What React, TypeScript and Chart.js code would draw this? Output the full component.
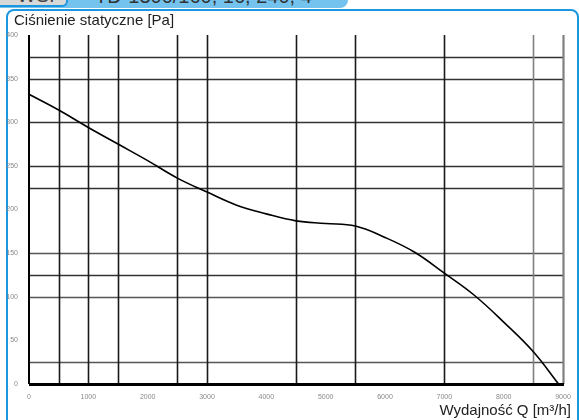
import React, { useEffect, useRef } from "react";
import { Chart, registerables } from "chart.js";

Chart.register(...registerables);

// Flow Q [m3/h]
const flowQ = [0, 500, 1000, 1500, 2000, 2500, 3000, 3500, 4000, 4500, 5000, 5500, 6000, 6500, 7000, 7500, 8000, 8500, 8925];
// Static pressure [Pa]
const pressure = [332, 314, 294, 275, 256, 236, 220, 205, 195, 187, 184, 181, 168, 151, 127, 102, 71, 37, 0];

// Irregular grid lines visible in the picture (data units)
const hGridValues = [25, 100, 125, 150, 225, 250, 300, 350, 375];
const vGridValues = [500, 1000, 1500, 2500, 3000, 4500, 5500, 7000, 8500, 9000];

const xTicks = [0, 1000, 2000, 3000, 4000, 5000, 6000, 7000, 8000, 9000];
const yTicks = [0, 50, 100, 150, 200, 250, 300, 350, 400];

const yTitle = "Ciśnienie statyczne [Pa]";
const xTitle = "Wydajność Q [m³/h]";
const headerTab = "WSP";
const headerText = "TD-1300/160, 16, 240, 4";

const gridPlugin = {
  id: "customGrid",
  beforeDatasetsDraw(chart: any) {
    const { ctx, chartArea, scales } = chart;
    const xs = scales.x;
    const ys = scales.y;
    ctx.save();
    hGridValues.forEach((v) => {
      const y = Math.round(ys.getPixelForValue(v)) + 0.5;
      ctx.beginPath();
      ctx.strokeStyle = v === 25 || v === 100 || v === 150 ? "#555" : "#333";
      ctx.lineWidth = 1.6;
      ctx.moveTo(chartArea.left, y);
      ctx.lineTo(chartArea.right, y);
      ctx.stroke();
    });
    vGridValues.forEach((v) => {
      const x = Math.round(xs.getPixelForValue(v)) + 0.5;
      ctx.beginPath();
      ctx.strokeStyle = v >= 8500 ? "#808080" : "#1a1a1a";
      ctx.lineWidth = v === 9000 ? 2.2 : 1.6;
      ctx.moveTo(x, chartArea.top);
      ctx.lineTo(x, chartArea.bottom);
      ctx.stroke();
    });
    ctx.beginPath();
    ctx.strokeStyle = "#000";
    ctx.lineWidth = 2;
    const lx = Math.round(xs.getPixelForValue(0));
    ctx.moveTo(lx, chartArea.top);
    ctx.lineTo(lx, chartArea.bottom);
    ctx.stroke();
    ctx.beginPath();
    ctx.lineWidth = 3;
    const by = Math.round(ys.getPixelForValue(0)) + 0.5;
    ctx.moveTo(chartArea.left, by);
    ctx.lineTo(chartArea.right + 1, by);
    ctx.stroke();
    ctx.restore();
  },
};

function ChartCanvas() {
  const ref = useRef<HTMLCanvasElement | null>(null);
  useEffect(() => {
    if (!ref.current) return;
    const chart = new Chart(ref.current, {
      type: "line",
      data: {
        datasets: [
          {
            data: flowQ.map((q, i) => ({ x: q, y: pressure[i] })),
            borderColor: "#000",
            borderWidth: 1.6,
            pointRadius: 0,
            tension: 0.4,
            fill: false,
          },
        ],
      },
      options: {
        animation: false,
        responsive: false,
        maintainAspectRatio: false,
        layout: { padding: { left: 0, top: 35, right: 16, bottom: 0 } },
        plugins: { legend: { display: false }, tooltip: { enabled: false }, title: { display: false } },
        scales: {
          x: {
            type: "linear",
            min: 0,
            max: 9000,
            grid: { display: false },
            border: { display: false },
            afterBuildTicks: (s: any) => {
              s.ticks = xTicks.map((v) => ({ value: v }));
            },
            afterFit: (s: any) => {
              s.height = 36;
            },
            ticks: {
              font: { size: 7, family: "'Liberation Sans', Arial" },
              color: "#888",
              padding: 1,
              maxRotation: 0,
              autoSkip: false,
              callback: (v: any) => String(v),
            },
          },
          y: {
            type: "linear",
            min: 0,
            max: 400,
            grid: { display: false },
            border: { display: false },
            afterBuildTicks: (s: any) => {
              s.ticks = yTicks.map((v) => ({ value: v }));
            },
            afterFit: (s: any) => {
              s.width = 29;
            },
            ticks: {
              font: { size: 7, family: "'Liberation Sans', Arial" },
              color: "#888",
              padding: 3,
              autoSkip: false,
              callback: (v: any) => String(v),
            },
          },
        },
      },
      plugins: [gridPlugin],
    } as any);
    return () => chart.destroy();
  }, []);
  return (
    <canvas
      ref={ref}
      width={579}
      height={420}
      style={{ position: "absolute", left: 0, top: 0, width: 579, height: 420 }}
    />
  );
}

export default function App() {
  const blue = "#1b97e0";
  return (
    <div
      style={{
        position: "fixed",
        left: 0,
        top: 0,
        width: 579,
        height: 420,
        overflow: "hidden",
        background: "#fff",
        fontFamily: "'Liberation Sans', Arial, sans-serif",
      }}
    >
      <div
        style={{
          position: "absolute",
          left: 0,
          top: 0,
          width: 348,
          height: 8,
          background: "#74c3ef",
          borderBottomRightRadius: 8,
          overflow: "hidden",
        }}
      >
        <div
          style={{
            position: "absolute",
            left: 95,
            top: -14,
            fontSize: 20,
            lineHeight: "20px",
            color: "#333",
            whiteSpace: "nowrap",
          }}
        >
          {headerText}
        </div>
      </div>
      <div
        style={{
          position: "absolute",
          left: 0,
          top: 0,
          width: 66,
          height: 5,
          background: "#d8d8d8",
          borderRight: `2px solid ${blue}`,
          borderBottom: `2px solid ${blue}`,
          borderBottomRightRadius: 6,
          overflow: "hidden",
        }}
      >
        <div
          style={{
            position: "absolute",
            left: 17,
            top: -15,
            fontSize: 20,
            lineHeight: "20px",
            color: "#444",
            whiteSpace: "nowrap",
          }}
        >
          {headerTab}
        </div>
      </div>
      <div
        style={{
          position: "absolute",
          left: 6,
          top: 9,
          width: 569,
          height: 430,
          border: `2px solid ${blue}`,
          borderRadius: 8,
        }}
      />
      <ChartCanvas />
      <div
        style={{
          position: "absolute",
          left: 14,
          top: 11,
          fontSize: 15,
          lineHeight: "17px",
          color: "#222",
          whiteSpace: "nowrap",
        }}
      >
        {yTitle}
      </div>
      <div
        style={{
          position: "absolute",
          right: 8,
          top: 401,
          fontSize: 15,
          lineHeight: "17px",
          color: "#222",
          whiteSpace: "nowrap",
        }}
      >
        {xTitle}
      </div>
    </div>
  );
}
